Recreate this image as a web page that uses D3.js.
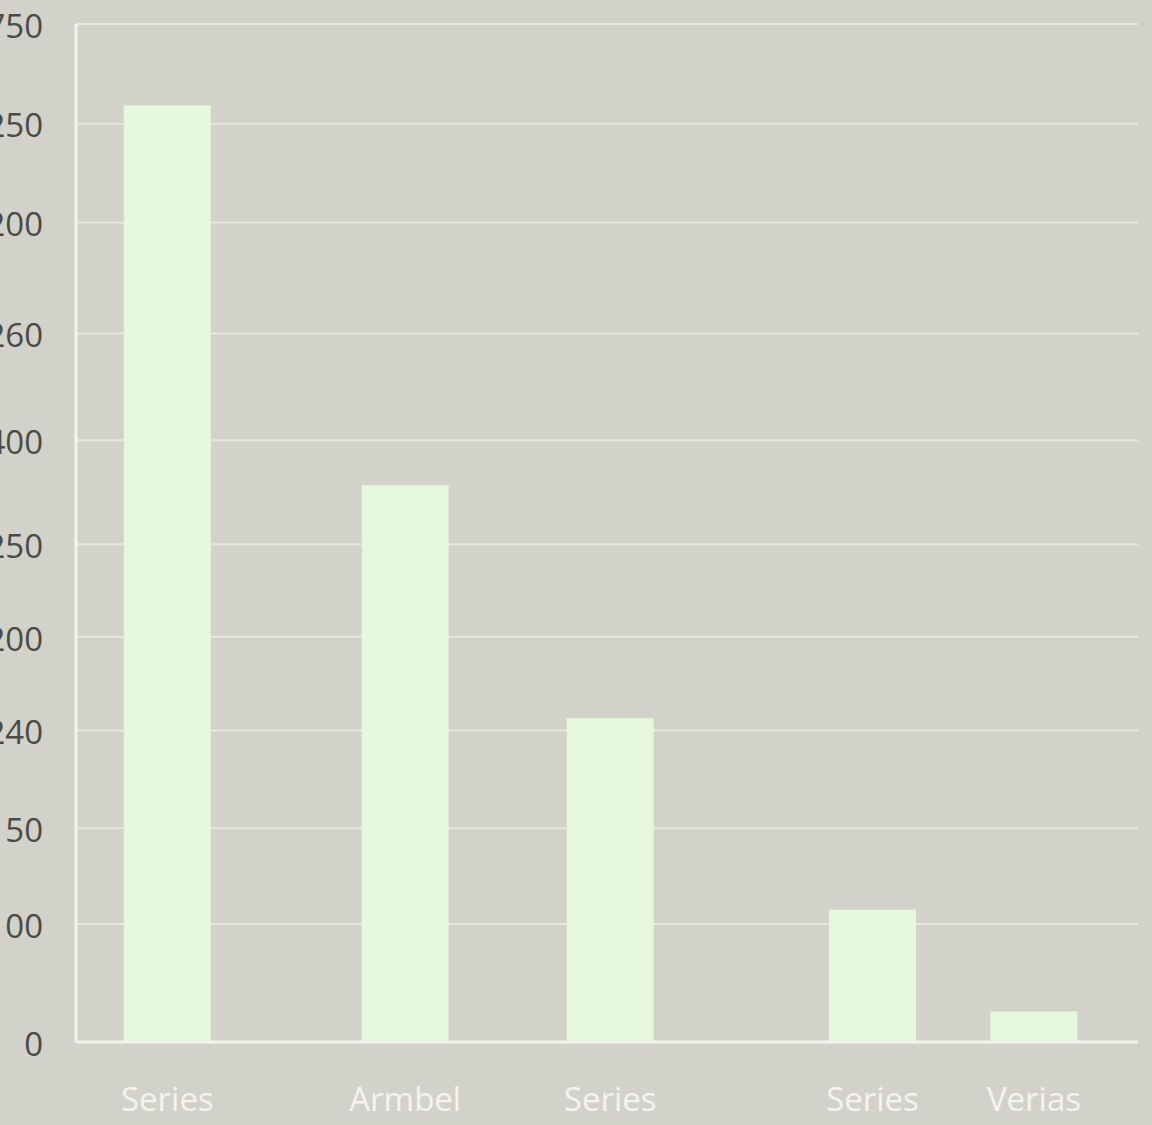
<!DOCTYPE html>
<html>
<head>
<meta charset="utf-8">
<script src="https://cdn.jsdelivr.net/npm/d3@7"></script>
<style>
  html, body { margin: 0; padding: 0; background: #d3d2ca; overflow: hidden; }
  svg { display: block; }
</style>
</head>
<body>
<svg id="chart" width="1152" height="1125"></svg>
<script>
// categories and their slot along the x axis
const categories = ["Series", "Armbel", "Series", "Series", "Verias"];
const slots = [0.86, 3.1, 5.03, 7.5, 9.02];
const values = [920, 547, 318, 130, 30];

// y ticks (labels as printed in the source, on an underlying 0-1000 scale)
const tickValues = [1000, 902, 805, 696, 591, 489, 398, 306, 210, 116, 0];
const tickLabels = ["750", "250", "200", "260", "400", "250", "200", "240", "150", "100", "0"];

const bgColor = "#d3d2ca";
const barColor = "#e5f7dc";
const gridColor = "#e7e6df";
const axisColor = "#f3f2ec";

const svg = d3.select("#chart");
const plot = { left: 76, right: 1138, top: 24, bottom: 1042 };

const x = d3.scaleLinear().domain([0, 10]).range([plot.left, plot.right]);
const y = d3.scaleLinear().domain([0, 1000]).range([plot.bottom, plot.top]);
const barWidth = 87;

svg.append("rect")
    .attr("width", 1152).attr("height", 1125)
    .attr("fill", bgColor);

// gridlines
svg.append("g")
    .selectAll("line")
    .data(tickValues.slice(0, -1))
    .enter()
    .append("line")
    .attr("x1", plot.left).attr("x2", plot.right)
    .attr("y1", d => y(d)).attr("y2", d => y(d))
    .attr("stroke", gridColor)
    .attr("stroke-width", 2);

// bars
svg.append("g")
    .selectAll("rect")
    .data(values)
    .enter()
    .append("rect")
    .attr("x", (d, i) => x(slots[i]) - barWidth / 2)
    .attr("y", d => y(d))
    .attr("width", barWidth)
    .attr("height", d => y(0) - y(d))
    .attr("fill", barColor);

// y axis
const yAxis = d3.axisLeft(y)
    .tickValues(tickValues)
    .tickFormat((d, i) => tickLabels[i])
    .tickSize(0)
    .tickPadding(33);

const gy = svg.append("g")
    .attr("transform", `translate(${plot.left},0)`)
    .call(yAxis);
gy.select(".domain").remove();
gy.selectAll("text")
    .attr("fill", "#4a4a47")
    .style("font-family", "'Open Sans', sans-serif")
    .style("font-size", "33px")
    .attr("dy", "0.4em");

// axis lines
svg.append("line")
    .attr("x1", plot.left).attr("x2", plot.left)
    .attr("y1", plot.top).attr("y2", plot.bottom)
    .attr("stroke", axisColor).attr("stroke-width", 3);
svg.append("line")
    .attr("x1", plot.left).attr("x2", plot.right)
    .attr("y1", plot.bottom).attr("y2", plot.bottom)
    .attr("stroke", axisColor).attr("stroke-width", 3);

// x labels
svg.append("g")
    .selectAll("text")
    .data(categories)
    .enter()
    .append("text")
    .attr("x", (d, i) => x(slots[i]))
    .attr("y", 1111)
    .attr("text-anchor", "middle")
    .attr("fill", "#f4f3ee")
    .style("font-family", "'Open Sans', sans-serif")
    .style("font-size", "33px")
    .text(d => d);
</script>
</body>
</html>
